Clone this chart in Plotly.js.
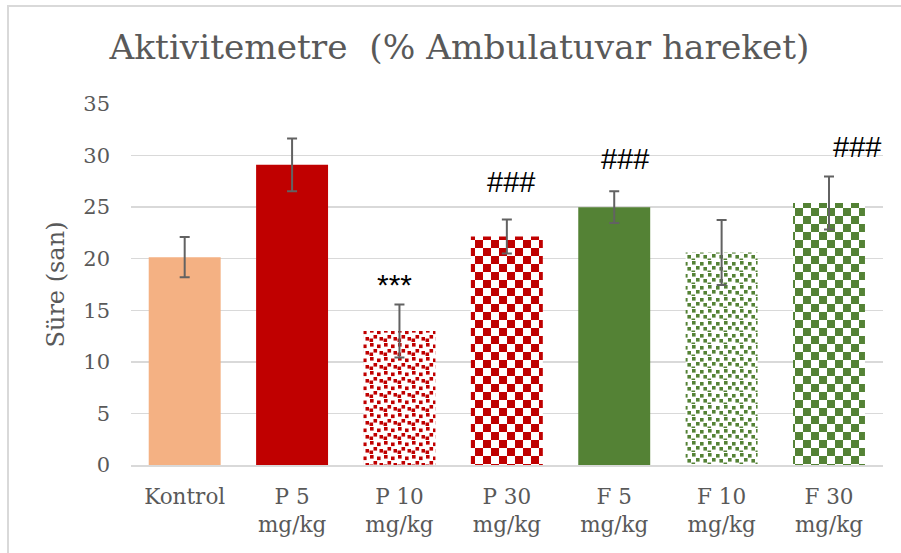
<!DOCTYPE html>
<html>
<head>
<meta charset="utf-8">
<script src="https://cdn.plot.ly/plotly-3.0.1.min.js"></script>
<style>
  html, body { margin: 0; padding: 0; background: #fff; }
  #wrap { position: relative; width: 901px; height: 553px; }
  #frame { position: absolute; left: 7px; top: 5px; right: 0; bottom: 0;
           border-left: 2px solid #d9d9d9; border-top: 2px solid #d9d9d9; }
  #chart { position: absolute; left: 0; top: 0; width: 901px; height: 553px; }
</style>
</head>
<body>
<div id="wrap"><div id="frame"></div><div id="chart"></div></div>
<script>
// ---- data ----
const categories = ['Kontrol', 'P 5<br>mg/kg', 'P 10<br>mg/kg', 'P 30<br>mg/kg', 'F 5<br>mg/kg', 'F 10<br>mg/kg', 'F 30<br>mg/kg'];
const values = [20.15, 29.1, 13.0, 22.15, 25.0, 20.6, 25.4];
const errors = [1.95, 2.55, 2.57, 1.65, 1.53, 3.15, 2.57];
const markLabels = ['', '', '***', '###', '###', '', '###'];
const markY = [0, 0, 17.5, 27.45, 29.7, 0, 30.85];

// ---- styles ----
const barColors = ['#F4B183', '#C00000', '#C00000', '#C00000', '#548235', '#548235', '#548235'];
const fillKind = ['solid', 'solid', 'confettiDense', 'checker', 'solid', 'confettiSparse', 'checker'];
const markShift = [0, 0, -5, 4, 11, 0, 28];

const patShape = fillKind.map(k => k === 'solid' ? '' : (k === 'checker' ? '+' : '.'));

const trace = {
  type: 'bar',
  x: categories,
  y: values,
  marker: {
    color: barColors,
    line: { width: 0 },
    pattern: { shape: patShape, fgcolor: barColors, bgcolor: '#ffffff', fillmode: 'replace', size: 8, solidity: 0.4 }
  },
  error_y: { type: 'data', array: errors, visible: true, color: '#626262', thickness: 2, width: 5 },
  hoverinfo: 'skip'
};

const annotations = [];
markLabels.forEach((t, i) => {
  if (!t) return;
  annotations.push({
    x: categories[i], y: markY[i], xref: 'x', yref: 'y', text: t, showarrow: false,
    xshift: markShift[i], yanchor: 'middle', xanchor: 'center',
    font: { family: '"Liberation Sans", Arial, sans-serif', size: t === '***' ? 30 : 29, color: '#000000' }
  });
});

const serif = '"DejaVu Serif", serif';
const layout = {
  width: 901, height: 553,
  margin: { l: 131, r: 18, t: 104, b: 88 },
  paper_bgcolor: 'rgba(0,0,0,0)',
  plot_bgcolor: 'rgba(0,0,0,0)',
  showlegend: false,
  bargap: 0.33,
  font: { family: serif, color: '#595959' },
  title: {
    text: 'Aktivitemetre\u00a0\u00a0(% Ambulatuvar hareket)',
    font: { family: serif, size: 34.3, color: '#595959' },
    x: 0.51, xref: 'container', xanchor: 'center',
    y: 0.915, yref: 'container', yanchor: 'middle'
  },
  xaxis: {
    type: 'category',
    tickfont: { family: serif, size: 21.5, color: '#595959' },
    showgrid: false, showline: true, linecolor: '#d9d9d9', linewidth: 1.5,
    ticks: '', ticklabelstandoff: 12, zeroline: false, fixedrange: true
  },
  yaxis: {
    range: [0, 35], dtick: 5, tick0: 0,
    tickfont: { family: serif, size: 21, color: '#595959' },
    showgrid: true, gridcolor: '#d9d9d9', gridwidth: 1.5,
    zeroline: false, showline: false, ticks: '', ticklabelstandoff: 20,
    title: { text: 'Süre (san)', font: { family: serif, size: 24, color: '#595959' }, standoff: 11 },
    fixedrange: true
  },
  annotations: annotations
};

function applyFills(gd) {
  const NS = 'http://www.w3.org/2000/svg';
  const paths = gd.querySelectorAll('.barlayer .point path');
  paths.forEach((p, i) => {
    const kind = fillKind[i];
    if (kind === 'solid') return;
    const fill = p.style.fill || p.getAttribute('fill') || '';
    const m = /url\(["']?#([^"')]+)["']?\)/.exec(fill);
    if (!m) return;
    const pat = document.getElementById(m[1]);
    if (!pat || pat.getAttribute('data-custom')) return;
    pat.setAttribute('data-custom', '1');
    while (pat.firstChild) pat.removeChild(pat.firstChild);
    const col = barColors[i];
    let w, h, cells;
    if (kind === 'checker') {
      w = 16; h = 16; cells = [[0, 0, 8, 8], [8, 8, 8, 8]];
    } else if (kind === 'confettiDense') {
      w = 14; h = 14;
      cells = [[1, 1, 3.6, 3.6], [8, 2.5, 3.6, 3.6], [4.5, 7, 3.6, 3.6], [10.5, 9, 3.6, 3.6], [0.5, 10.5, 3.6, 3.6]];
    } else {
      w = 16; h = 12;
      cells = [[1, 1, 3.6, 3.6], [9, 2, 3.6, 3.6], [5, 6, 3.6, 3.6], [12.4, 7, 3.6, 3.6], [0.5, 10.5, 3.6, 1.5]];
    }
    pat.setAttribute('width', w);
    pat.setAttribute('height', h);
    pat.setAttribute('patternUnits', 'userSpaceOnUse');
    pat.removeAttribute('patternTransform');
    const bg = document.createElementNS(NS, 'rect');
    bg.setAttribute('x', 0); bg.setAttribute('y', 0);
    bg.setAttribute('width', w); bg.setAttribute('height', h);
    bg.setAttribute('fill', '#ffffff');
    pat.appendChild(bg);
    cells.forEach(c => {
      const r = document.createElementNS(NS, 'rect');
      r.setAttribute('x', c[0]); r.setAttribute('y', c[1]);
      r.setAttribute('width', c[2]); r.setAttribute('height', c[3]);
      r.setAttribute('fill', col);
      pat.appendChild(r);
    });
  });
}

Plotly.newPlot('chart', [trace], layout, { displayModeBar: false, staticPlot: true }).then(gd => applyFills(gd));
</script>
</body>
</html>
